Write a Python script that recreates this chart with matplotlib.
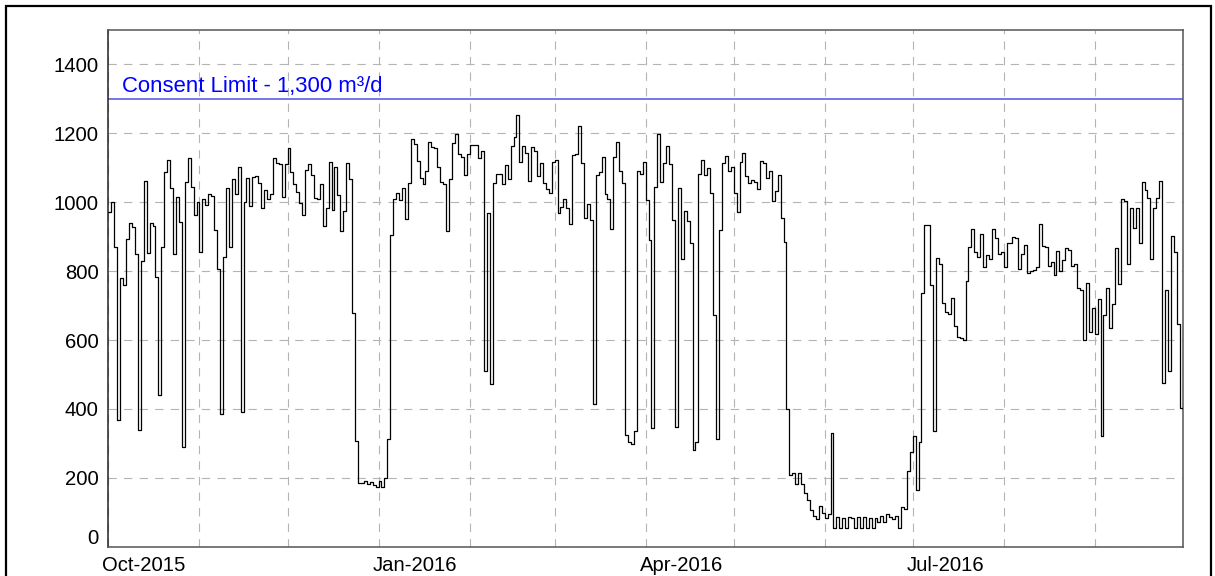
import numpy as np
import pandas as pd
import matplotlib
matplotlib.use("Agg")
import matplotlib.pyplot as plt
import matplotlib.dates as mdates
from matplotlib.transforms import ScaledTranslation
from matplotlib.patches import Rectangle

# ---- data: daily abstraction (m3/d), 1 Oct 2015 - 30 Sep 2016 ----
oct_2015 = [972, 1000, 869, 368, 781, 759, 894, 940, 927, 849, 339, 830, 1062, 852, 940, 931,
            783, 440, 869, 1087, 1124, 1042, 849, 1016, 943, 288, 1060, 1127, 1045, 964, 1000]
nov_2015 = [856, 1010, 991, 1024, 1019, 920, 807, 385, 840, 1042, 871, 1068, 1023, 1102, 392,
            1002, 1071, 990, 1072, 1077, 1056, 982, 1036, 1009, 1023, 1129, 1115, 1111, 1016, 1110]
dec_2015 = [1156, 1089, 1052, 1029, 999, 964, 1094, 1111, 1079, 1013, 1008, 1052, 932, 984, 1116,
            977, 1103, 1021, 916, 974, 1115, 1067, 679, 308, 186, 185, 190, 183, 187, 178, 173]
jan_2016 = [192, 174, 200, 313, 904, 1010, 1028, 1007, 1041, 951, 1055, 1184, 1168, 1120, 1069,
            1052, 1092, 1176, 1159, 1158, 1103, 1058, 1052, 916, 1068, 1171, 1198, 1139, 1132, 1080, 1139]
feb_2016 = [1167, 1166, 1165, 1127, 1148, 510, 968, 473, 1055, 1082, 1083, 1052, 1107, 1068, 1163,
            1189, 1252, 1118, 1163, 1144, 1063, 1159, 1148, 1075, 1115, 1055, 1037, 1026, 1118]
mar_2016 = [1123, 968, 985, 1008, 982, 937, 1137, 1140, 1221, 1113, 955, 996, 949, 414, 1079,
            1089, 1132, 1023, 1008, 922, 1131, 1176, 1090, 1057, 323, 305, 298, 337, 1092, 1081, 1116]
apr_2016 = [1007, 889, 344, 1045, 1197, 1058, 1113, 1164, 1110, 947, 348, 1040, 836, 975, 945,
            881, 281, 305, 1082, 1123, 1079, 1100, 1026, 674, 313, 918, 1113, 1135, 1091, 1101]
may_2016 = [1028, 971, 1116, 1143, 1075, 1057, 1064, 1058, 1038, 1120, 1115, 1069, 1091, 1005, 1033,
            1079, 953, 884, 399, 208, 213, 181, 213, 181, 157, 137, 106, 90, 79, 119, 97]
jun_2016 = [82, 95, 331, 55, 87, 55, 84, 55, 87, 82, 55, 87, 55, 87, 55,
            84, 55, 82, 73, 90, 71, 94, 87, 80, 90, 55, 115, 109, 220, 276]
jul_2016 = [322, 166, 303, 736, 933, 935, 759, 336, 838, 822, 707, 680, 675, 723, 641,
            610, 606, 599, 772, 871, 922, 856, 842, 907, 811, 847, 834, 922, 895, 850, 855]
aug_2016 = [811, 883, 883, 900, 895, 806, 849, 877, 796, 800, 803, 813, 936, 873, 871,
            816, 827, 789, 858, 800, 832, 866, 861, 816, 820, 750, 745, 600, 765, 622, 692]
sep_2016 = [617, 719, 321, 674, 750, 634, 704, 866, 762, 1009, 1004, 820, 982, 924, 984,
            881, 1058, 1035, 1013, 835, 982, 1013, 1062, 474, 744, 510, 902, 856, 647, 404]

start_date = "2015-10-01"
end_date = "2016-10-01"
x_label_dates = ["2015-10-01", "2016-01-01", "2016-04-01", "2016-07-01"]
consent_limit = 1300
consent_label = "Consent Limit - 1,300 m³/d"
y_ticks = [0, 200, 400, 600, 800, 1000, 1200, 1400]
y_max = 1500

values = np.array(oct_2015 + nov_2015 + dec_2015 + jan_2016 + feb_2016 + mar_2016 +
                  apr_2016 + may_2016 + jun_2016 + jul_2016 + aug_2016 + sep_2016, dtype=float)
edges = pd.date_range(start_date, periods=len(values) + 1, freq="D")

# ---- figure ----
plt.rcParams['font.family'] = ['Liberation Sans', 'DejaVu Sans']
plt.rcParams['lines.scale_dashes'] = False
FS = 14.6

fig = plt.figure(figsize=(12.15, 5.76), dpi=100)
ax = fig.add_axes([108.5 / 1215, 1 - 546.7 / 576, (1182.7 - 108.5) / 1215, (546.7 - 30) / 576])

ax.step(edges, np.append(values, values[-1]), where="post", color="black", lw=0.9, zorder=3)
ax.axhline(consent_limit, color="#6a6aee", lw=1.3, zorder=2)
ax.text(0.0125, consent_limit + 20, consent_label, transform=ax.get_yaxis_transform(),
        color="#0000ff", fontsize=15.9, va="baseline", ha="left", zorder=4)

ax.set_xlim(pd.Timestamp(start_date), pd.Timestamp(end_date))
ax.set_ylim(0, y_max)
ax.set_yticks(y_ticks)
ax.set_yticklabels([str(v) for v in y_ticks])

ax.set_xticks([pd.Timestamp(d) for d in x_label_dates])
ax.xaxis.set_major_formatter(mdates.DateFormatter("%b-%Y"))
ax.xaxis.set_minor_locator(mdates.MonthLocator())

grid_kw = dict(color="#b4b4b4", lw=0.8, dashes=(6, 5.2))
ax.grid(True, which="both", axis="x", **grid_kw)
ax.grid(True, which="major", axis="y", **grid_kw)
ax.set_axisbelow(True)

ax.tick_params(axis="both", which="both", length=0, labelsize=FS)
ax.tick_params(axis="y", pad=7)
ax.tick_params(axis="x", pad=7)

for sp in ax.spines.values():
    sp.set_color("#555555")
    sp.set_linewidth(1.1)
ax.spines["left"].set_color("#222222")

for lbl in ax.get_xticklabels():
    lbl.set_horizontalalignment("left")
    lbl.set_transform(lbl.get_transform() + ScaledTranslation(-6 / 100, 0, fig.dpi_scale_trans))
for lbl in ax.get_yticklabels():
    if lbl.get_text() == "0":
        lbl.set_transform(lbl.get_transform() + ScaledTranslation(0, 10 / 100, fig.dpi_scale_trans))

# outer frame
fig.patches.append(Rectangle((5.5 / 1215, -0.05), (1211 - 5.5) / 1215, 1.05 - 5.5 / 576,
                             transform=fig.transFigure, fill=False, edgecolor="black", lw=1.6))

fig.savefig("out.png", dpi=100)
